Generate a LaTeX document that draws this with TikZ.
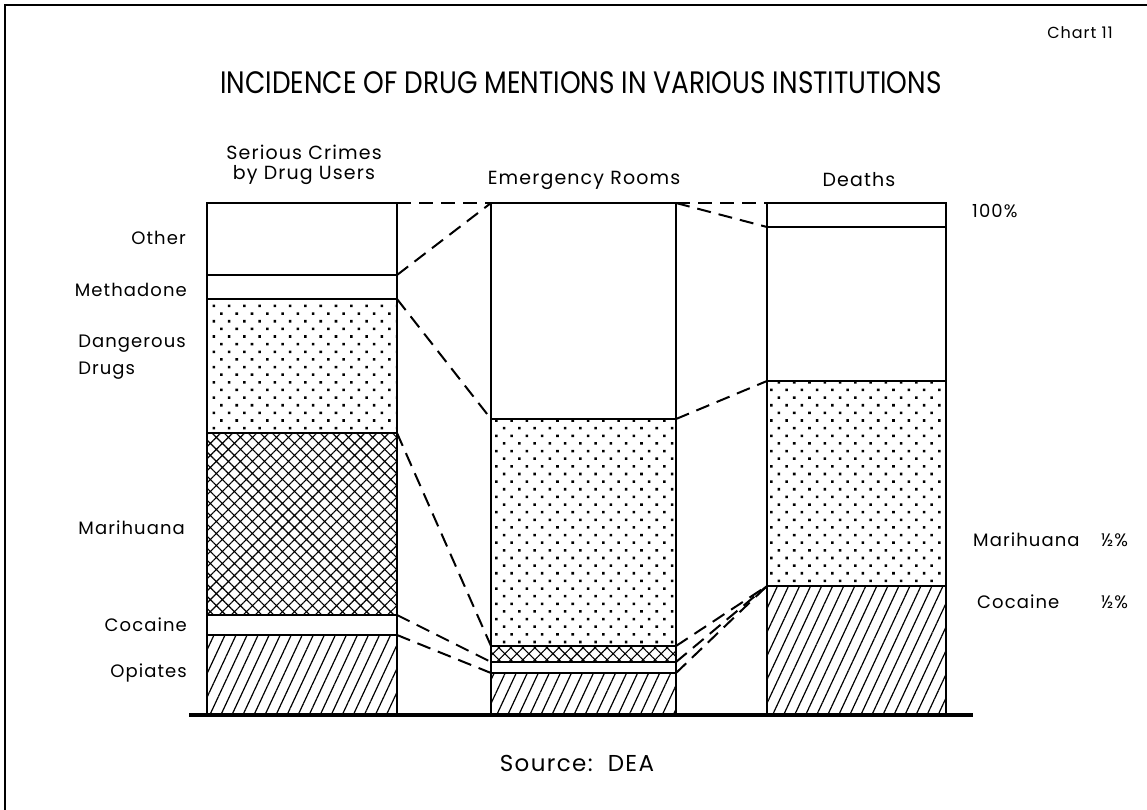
\documentclass[tikz,border=0pt]{standalone}
\usepackage{fontspec}
\setmainfont{Poppins}[LetterSpace=6]
\newfontfamily\titlefont{Poppins}[FakeStretch=0.85]
\usetikzlibrary{patterns.meta}
\begin{document}
\begin{tikzpicture}[x=1pt,y=-1pt,
  side/.style={line width=2.4pt},
  divider/.style={line width=2pt},
  conn/.style={dash pattern=on 14pt off 8pt, line width=2pt},
  dotsfill/.style={pattern={Dots[distance=10.8pt, angle=45, radius=1.8pt]}},
  crossfill/.style={pattern={Hatch[distance=8.5pt, angle=45, line width=1.1pt]}},
  hatchfill/.style={pattern={Lines[distance=10pt, angle=65, line width=1.2pt]}},
  lbl/.style={font=\fontsize{18}{21}\selectfont, inner sep=0pt},
  head/.style={font=\fontsize{19}{19}\selectfont, inner sep=0pt, align=center},
]
\useasboundingbox (0,0) rectangle (1147,810);
\fill[white] (0,0) rectangle (1147,810);
% frame
\draw[line width=2pt] (5,810) -- (5,5) -- (1147,5);

% texts
\node[font=\fontsize{16}{18}\selectfont, inner sep=0pt, anchor=east] (chart) at (1113,33) {Chart 11};
\node[font=\titlefont\fontsize{31}{34}\selectfont, inner sep=0pt] (title) at (581,83) {INCIDENCE OF DRUG MENTIONS IN VARIOUS INSTITUTIONS};
\node[head] (hA) at (304,165) {Serious Crimes\\[1pt]by Drug Users};
\node[head] (hB) at (584,180) {Emergency Rooms};
\node[head] (hC) at (859,180) {Deaths};

% ---------- bar A : Serious crimes ----------
\path[dotsfill] (207,299) rectangle (397,433);
\path[crossfill] (207,433) rectangle (397,615);
\path[hatchfill] (207,635) rectangle (397,715);
\foreach \yy in {275,299,433,615,635}{\draw[divider] (207,\yy) -- (397,\yy);}
\draw[side] (207,715) -- (207,203) -- (397,203) -- (397,715);
\coordinate (A0) at (397,203);
\coordinate (A1) at (397,275);
\coordinate (A2) at (397,299);
\coordinate (A3) at (397,433);
\coordinate (A4) at (397,615);
\coordinate (A5) at (397,635);

% ---------- bar B : Emergency rooms ----------
\path[dotsfill] (491,419) rectangle (676,646);
\path[crossfill] (491,646) rectangle (676,662);
\path[hatchfill] (491,673) rectangle (676,715);
\foreach \yy in {419,646,662,673}{\draw[divider] (491,\yy) -- (676,\yy);}
\draw[side] (491,715) -- (491,203) -- (676,203) -- (676,715);
\coordinate (BL0) at (491,203);
\coordinate (BL2) at (491,419);
\coordinate (BL3) at (491,646);
\coordinate (BL4) at (491,662);
\coordinate (BL5) at (491,673);
\coordinate (BR0) at (676,203);
\coordinate (BR2) at (676,419);
\coordinate (BR3) at (676,646);
\coordinate (BR4) at (676,662);
\coordinate (BR5) at (676,673);

% ---------- bar C : Deaths ----------
\path[dotsfill] (767,381) rectangle (946,586);
\path[hatchfill] (767,586) rectangle (946,715);
\foreach \yy in {227,381,586}{\draw[divider] (767,\yy) -- (946,\yy);}
\draw[side] (767,715) -- (767,203) -- (946,203) -- (946,715);
\coordinate (C0) at (767,203);
\coordinate (C1) at (767,227);
\coordinate (C2) at (767,381);
\coordinate (C3) at (767,586);

% baseline
\draw[line width=3.5pt] (189,715) -- (973,715);

% connectors
\draw[conn] (A0) -- (BL0);
\draw[conn] (BR0) -- (C0);
\draw[conn] (A1) -- (BL0);
\draw[conn] (A2) -- (BL2);
\draw[conn] (A3) -- (BL3);
\draw[conn] (A4) -- (BL4);
\draw[conn] (A5) -- (BL5);
\draw[conn] (BR0) -- (C1);
\draw[conn] (BR2) -- (C2);
\draw[conn] (BR3) -- (C3);
\draw[conn] (BR4) -- (C3);
\draw[conn] (BR5) -- (C3);

% left labels
\node[lbl, anchor=east] (lOther) at (186,238) {Other};
\node[lbl, anchor=east] (lMeth) at (187,290) {Methadone};
\node[lbl, anchor=east, align=left] (lDang) at (186,357) {Dangerous\\[6pt]Drugs};
\node[lbl, anchor=east] (lMari) at (185,528) {Marihuana};
\node[lbl, anchor=east] (lCoca) at (187,625) {Cocaine};
\node[lbl, anchor=east] (lOpi) at (187,673) {Opiates};

% right labels
\node[lbl, anchor=west] (r100) at (972,211) {100\%};
\node[lbl, anchor=west] (rMari) at (973,540) {Marihuana};
\node[lbl, anchor=west] (rMariP) at (1101,540) {½\%};
\node[lbl, anchor=west] (rCoca) at (977,602) {Cocaine};
\node[lbl, anchor=west] (rCocaP) at (1101,602) {½\%};

% source
\node[font=\fontsize{23}{25}\selectfont, inner sep=0pt] (src) at (577,763) {Source:\ \ DEA};
\end{tikzpicture}
\end{document}
